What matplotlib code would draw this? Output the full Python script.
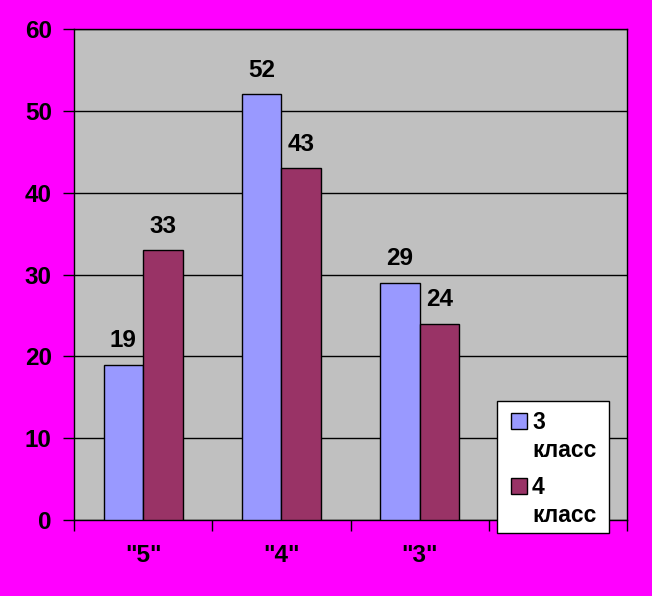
import matplotlib
matplotlib.use("Agg")
import matplotlib.pyplot as plt
import numpy as np
from matplotlib.patches import Rectangle

categories = ['"5"', '"4"', '"3"']
series_names = [("3", "класс"), ("4", "класс")]
values_3 = [19, 52, 29]
values_4 = [33, 43, 24]
yticks = [0, 10, 20, 30, 40, 50, 60]
colors = ['#9999FF', '#993366']

plt.rcParams['font.family'] = ['Liberation Sans', 'DejaVu Sans']
plt.rcParams['font.weight'] = 'bold'
FS = 17.5
FS_LEG = 16.5

W, H = 652, 596
fig = plt.figure(figsize=(W/100, H/100), dpi=100, facecolor='#FF00FF')
ax = fig.add_axes([74/W, 1-520/H, (627-74)/W, (520-29)/H])
ax.set_facecolor('#C0C0C0')

x = np.arange(len(categories)) + 0.5
w = 0.285
b1 = ax.bar(x - w/2, values_3, w, color=colors[0], edgecolor='black', linewidth=1, zorder=3)
b2 = ax.bar(x + w/2, values_4, w, color=colors[1], edgecolor='black', linewidth=1, zorder=3)

for bars, vals in ((b1, values_3), (b2, values_4)):
    for r, v in zip(bars, vals):
        ax.annotate(str(v), (r.get_x() + r.get_width()/2, v), xytext=(0, 12.5),
                    textcoords='offset points', ha='center', va='baseline',
                    fontsize=FS, fontweight='bold', color='black')

ax.set_xlim(0, 4)
ax.set_ylim(0, 60)
ax.set_yticks(yticks)
ax.set_yticklabels([str(t) for t in yticks], fontsize=FS, fontweight='bold')
ax.yaxis.grid(True, color='black', linewidth=1, zorder=1)
ax.set_axisbelow(True)
ax.set_xticks([0, 1, 2, 3, 4])
ax.set_xticklabels([])
ax.set_xticks(x, minor=True)
ax.set_xticklabels(categories, minor=True, fontsize=FS, fontweight='bold')
ax.tick_params(axis='x', which='minor', length=0, pad=17)
ax.tick_params(axis='x', which='major', length=8, width=1, direction='out', color='black')
ax.tick_params(axis='y', length=8, width=1, direction='out', pad=8)
for s in ax.spines.values():
    s.set_color('black')
    s.set_linewidth(1)

# legend drawn as a box in figure pixel coordinates
def fx(px):
    return px / W
def fy(py):
    return 1 - py / H

fig.patches.append(Rectangle((fx(497), fy(533)), fx(609) - fx(497), fy(401) - fy(533),
                             transform=fig.transFigure, facecolor='white',
                             edgecolor='black', linewidth=1, zorder=10))
for i, (first, second) in enumerate(series_names):
    top = 413 + i * 65
    fig.patches.append(Rectangle((fx(511), fy(top + 16)), fx(527) - fx(511), fy(top) - fy(top + 16),
                                 transform=fig.transFigure, facecolor=colors[i],
                                 edgecolor='black', linewidth=1, zorder=11))
    fig.text(fx(532), fy(top + 16), first, fontsize=FS_LEG, fontweight='bold',
             va='baseline', ha='left', zorder=12)
    fig.text(fx(532), fy(top + 44), second, fontsize=FS_LEG, fontweight='bold',
             va='baseline', ha='left', zorder=12)

fig.savefig('out.png', dpi=100, facecolor='#FF00FF')
